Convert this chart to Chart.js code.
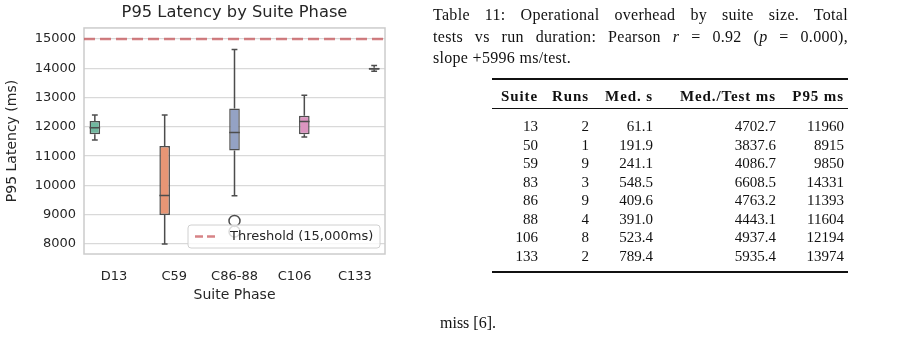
<!DOCTYPE html>
<html>
<head>
<meta charset="utf-8">
<script src="https://cdn.jsdelivr.net/npm/chart.js@4.4.0/dist/chart.umd.min.js"></script>
<style>
  body { margin: 0; background: #fff; width: 911px; height: 346px; overflow: hidden; position: relative; }
  #latency { position: absolute; left: 0; top: 0; }
  .tex { position: absolute; font-family: "Liberation Serif", serif; color: #111; white-space: nowrap; }
  .cap { left: 433px; width: 415px; font-size: 16px; letter-spacing: 0.3px; height: 21px; line-height: 21px; }
  .just { text-align: justify; text-align-last: justify; }
  .rule { position: absolute; left: 492px; width: 356px; background: #111; }
  .cell { position: absolute; font-family: "Liberation Serif", serif; font-size: 15px; text-align: right; color: #111; height: 18px; line-height: 18px; }
  .hd { font-weight: bold; letter-spacing: 0.9px; }
</style>
</head>
<body>
<canvas id="latency" width="469" height="346"></canvas>

<div class="tex cap just" style="top:4px">Table 11: Operational overhead by suite size. Total</div>
<div class="tex cap just" style="top:26px">tests vs run duration: Pearson <i>r</i> = 0.92 (<i>p</i> = 0.000),</div>
<div class="tex cap" style="top:47px">slope +5996 ms/test.</div>

<div class="rule" style="top:78px;height:1.6px"></div>
<div class="rule" style="top:108px;height:1px"></div>
<div class="rule" style="top:271px;height:1.6px"></div>
<div id="table"></div>

<div class="tex" style="left:440px;top:312px;font-size:16px;line-height:21px">miss [6].</div>

<script>
// chart data
const phases = ["D13", "C59", "C86-88", "C106", "C133"];
const whiskerLow = [11550, 8000, 9650, 11650, 13900];
const q1 = [11750, 8990, 11190, 11750, 13950];
const median = [11970, 9660, 11810, 12180, 13985];
const q3 = [12200, 11350, 12630, 12380, 14020];
const whiskerHigh = [12400, 12400, 14640, 13080, 14090];
const outliers = [[], [], [8790, 8425], [], []];
const threshold = 15000;
const yTicks = [8000, 9000, 10000, 11000, 12000, 13000, 14000, 15000];

// table data
const tableHeaders = ["Suite", "Runs", "Med. s", "Med./Test ms", "P95 ms"];
const suiteSizes = ["13", "50", "59", "83", "86", "88", "106", "133"];
const runs = ["2", "1", "9", "3", "9", "4", "8", "2"];
const medSeconds = ["61.1", "191.9", "241.1", "548.5", "409.6", "391.0", "523.4", "789.4"];
const medPerTest = ["4702.7", "3837.6", "4086.7", "6608.5", "4763.2", "4443.1", "4937.4", "5935.4"];
const p95 = ["11960", "8915", "9850", "14331", "11393", "11604", "12194", "13974"];

const boxColors = ["#71b79f", "#e89675", "#94a2c4", "#db95c0", "#a1c864"];
const lineColor = "#4d4d4d";
const textColor = "#262626";

(function build_table() {
    const colRight = [538, 589, 653, 776, 844];
    const columns = [suiteSizes, runs, medSeconds, medPerTest, p95];
    const el = document.getElementById("table");
    let html = "";
    tableHeaders.forEach((h, c) => {
        html += '<div class="cell hd" style="left:' + (colRight[c] - 140) + 'px;width:140px;top:87px">' + h + '</div>';
    });
    suiteSizes.forEach((s, r) => {
        const top = 117 + r * 18.5;
        columns.forEach((col, c) => {
            html += '<div class="cell" style="left:' + (colRight[c] - 100) + 'px;width:100px;top:' + top + 'px">' + col[r] + '</div>';
        });
    });
    el.innerHTML = html;
})();

// whiskers, medians, fliers, threshold, frame and legend
const boxExtras = {
    id: "boxExtras",
    beforeDatasetsDraw(chart) {
        const { ctx, chartArea: a, scales: { y } } = chart;
        ctx.save();
        ctx.strokeStyle = "#cccccc";
        ctx.lineWidth = 1.5;
        ctx.strokeRect(a.left, a.top, a.right - a.left, a.bottom - a.top);

        const ty = y.getPixelForValue(threshold);
        ctx.strokeStyle = "rgba(196,78,82,0.7)";
        ctx.lineWidth = 2.5;
        ctx.setLineDash([11, 5]);
        ctx.beginPath();
        ctx.moveTo(a.left, ty);
        ctx.lineTo(a.right, ty);
        ctx.stroke();
        ctx.restore();
    },
    afterDatasetsDraw(chart) {
        const { ctx, scales: { y } } = chart;
        ctx.save();
        ctx.strokeStyle = lineColor;
        ctx.lineWidth = 1.5;
        phases.forEach((p, i) => {
            const bar = chart.getDatasetMeta(i).data[i];
            const x = bar.x;
            const half = bar.width / 2;
            const cap = half * 0.55;
            ctx.beginPath();
            // upper whisker
            ctx.moveTo(x, y.getPixelForValue(q3[i]));
            ctx.lineTo(x, y.getPixelForValue(whiskerHigh[i]));
            ctx.moveTo(x - cap, y.getPixelForValue(whiskerHigh[i]));
            ctx.lineTo(x + cap, y.getPixelForValue(whiskerHigh[i]));
            // lower whisker
            ctx.moveTo(x, y.getPixelForValue(q1[i]));
            ctx.lineTo(x, y.getPixelForValue(whiskerLow[i]));
            ctx.moveTo(x - cap, y.getPixelForValue(whiskerLow[i]));
            ctx.lineTo(x + cap, y.getPixelForValue(whiskerLow[i]));
            // median
            ctx.moveTo(x - half, y.getPixelForValue(median[i]));
            ctx.lineTo(x + half, y.getPixelForValue(median[i]));
            ctx.stroke();
            outliers[i].forEach(v => {
                ctx.beginPath();
                ctx.arc(x, y.getPixelForValue(v), 5.5, 0, Math.PI * 2);
                ctx.stroke();
            });
        });
        ctx.restore();
    },
    afterDraw(chart) {
        const { ctx, chartArea: a } = chart;
        const w = 192, h = 23;
        const lx = a.right - 5 - w, ly = a.bottom - 6 - h;
        ctx.save();
        ctx.fillStyle = "rgba(255,255,255,0.8)";
        ctx.strokeStyle = "#d0d0d0";
        ctx.lineWidth = 1;
        ctx.beginPath();
        ctx.roundRect(lx, ly, w, h, 3);
        ctx.fill();
        ctx.stroke();
        ctx.strokeStyle = "rgba(196,78,82,0.7)";
        ctx.lineWidth = 2.5;
        ctx.setLineDash([8, 4]);
        ctx.beginPath();
        ctx.moveTo(lx + 7, ly + h / 2);
        ctx.lineTo(lx + 28, ly + h / 2);
        ctx.stroke();
        ctx.fillStyle = textColor;
        ctx.font = '13px "DejaVu Sans"';
        ctx.textBaseline = "middle";
        ctx.fillText("Threshold (15,000ms)", lx + 42, ly + h / 2 + 0.5);
        ctx.restore();
    }
};

(function latency_graph() {
    const datasets = phases.map((p, i) => ({
        label: p,
        data: phases.map((q, j) => (j === i ? [q1[i], q3[i]] : null)),
        backgroundColor: boxColors[i],
        borderColor: lineColor,
        borderWidth: 1.5,
        borderSkipped: false,
    }));

    const ctx = document.getElementById("latency").getContext("2d");

    const myChart = new Chart(ctx, {
        type: "bar",
        data: { labels: phases, datasets: datasets },
        options: {
            responsive: false,
            animation: false,
            categoryPercentage: 0.8,
            barPercentage: 1.1,
            layout: { padding: { left: 0, right: 0, top: 0, bottom: 42.6 } },
            plugins: {
                legend: { display: false },
                tooltip: { enabled: false },
                title: {
                    display: true,
                    text: "P95 Latency by Suite Phase",
                    color: textColor,
                    font: { family: "DejaVu Sans", size: 16.3, weight: "normal" },
                    padding: { top: 3, bottom: 5.4 },
                },
            },
            scales: {
                x: {
                    grid: { display: false },
                    border: { display: false },
                    ticks: { color: textColor, font: { family: "DejaVu Sans", size: 13 }, padding: 7 },
                    title: {
                        display: true,
                        text: "Suite Phase",
                        color: textColor,
                        font: { family: "DejaVu Sans", size: 14 },
                        padding: { top: 0, bottom: 0 },
                    },
                    afterFit: s => { s.height = 49.4; },
                },
                y: {
                    min: 7660,
                    max: 15375,
                    afterBuildTicks: s => { s.ticks = yTicks.map(v => ({ value: v })); },
                    grid: { color: "#d9d9d9", lineWidth: 1.3, drawTicks: false },
                    border: { display: false },
                    ticks: {
                        color: textColor,
                        font: { family: "DejaVu Sans", size: 13 },
                        padding: 8,
                        callback: v => String(v),
                    },
                    title: {
                        display: true,
                        text: "P95 Latency (ms)",
                        color: textColor,
                        font: { family: "DejaVu Sans", size: 14 },
                        padding: { top: 4, bottom: 0 },
                    },
                    afterFit: s => { s.width = 84; },
                },
                // empty right-hand strip so the title centres over the plot
                yPad: {
                    type: "linear",
                    position: "right",
                    grid: { display: false },
                    border: { display: false },
                    ticks: { display: false },
                    afterFit: s => { s.width = 84; },
                },
            },
        },
        plugins: [boxExtras],
    });
})();
</script>
</body>
</html>
